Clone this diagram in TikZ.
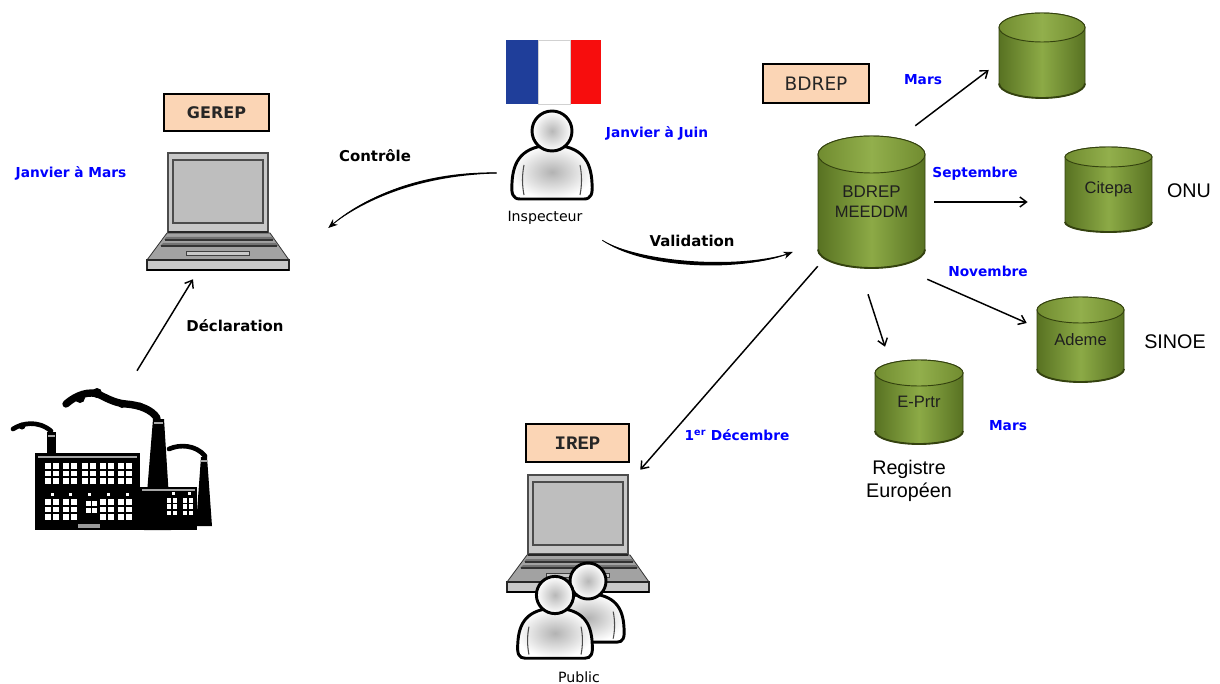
\documentclass[tikz,border=0pt]{standalone}
\usepackage{fontspec}
\setmainfont{Liberation Sans}
\newfontfamily\tahomalike{DejaVu Sans}
\newfontfamily\typewr{Liberation Mono}
\usetikzlibrary{arrows.meta,calc}

\definecolor{peach}{HTML}{FBD5B5}
\definecolor{monthblue}{HTML}{0000FF}
\definecolor{cylmid}{HTML}{8CAA46}
\definecolor{cyledge}{HTML}{587222}
\definecolor{cyltopmid}{HTML}{92AF4C}
\definecolor{cyltopedge}{HTML}{718C30}
\definecolor{cylline}{HTML}{34420F}
\definecolor{framegray}{HTML}{C8C8C8}
\definecolor{screengray}{HTML}{BEBEBE}
\definecolor{deckgray}{HTML}{A2A2A2}
\definecolor{flagblue}{HTML}{1F3E9A}
\definecolor{flagred}{HTML}{F70D0D}

% database cylinder: name, centre x, top y, bottom y, x radius, y radius, text
\newcommand\dbcyl[7]{%
  \shade[left color=cyledge,right color=cyledge,middle color=cylmid,draw=cylline,line width=0.7pt]
    (#2-#5,#3+#6) -- (#2-#5,#4-#6)
    arc[start angle=180,end angle=360,x radius={#5*0.75pt},y radius={#6*0.75pt}]
    -- (#2+#5,#3+#6)
    arc[start angle=0,end angle=180,x radius={#5*0.75pt},y radius={#6*0.75pt}] -- cycle;
  \draw[cylline,line width=1.4pt] (#2-#5,#4-#6)
    arc[start angle=180,end angle=360,x radius={#5*0.75pt},y radius={#6*0.75pt}];
  \shade[left color=cyltopedge,right color=cyltopedge,middle color=cyltopmid,draw=cylline,line width=0.7pt]
    (#2,#3+#6) ellipse[x radius={#5*0.75pt},y radius={#6*0.75pt}];
  \node[cyltext,minimum width={2*#5*0.75pt},minimum height={(#4-#3)*0.75pt}] (#1) at (#2,{(#3+#4)/2}) {#7};
}

% laptop drawn from the top-left corner of its screen
\newcommand\laptopicon[2]{%
  \begin{scope}[shift={(#1,#2)}]
    \filldraw[fill=deckgray,draw=black!80,line width=0.6pt] (-1,80) -- (102,80) -- (121,107) -- (-21,107) -- cycle;
    \fill[black!55] (-2,84) -- (104,84) -- (106,87) -- (-4,87) -- cycle;
    \fill[black!55] (-5,90) -- (108,90) -- (110,93) -- (-8,93) -- cycle;
    \draw[black!80,line width=0.8pt] (-3,87) -- (105,87) (-7,93) -- (109,93);
    \filldraw[fill=framegray,draw=black!75,line width=0.6pt] (18,98.5) rectangle (81,102.5);
    \filldraw[fill=framegray,draw=black!85,line width=0.8pt] (-21,107) rectangle (121,117);
    \draw[black,line width=1.4pt] (-21,117) -- (121,117);
    \filldraw[fill=framegray,draw=black!70,line width=0.8pt] (0,0) rectangle (100,79);
    \draw[black!85,line width=1.5pt] (0,79.5) -- (100,79.5);
    \filldraw[fill=screengray,draw=black!70,line width=1.1pt] (5,7) rectangle (95,70);
  \end{scope}}

% person: head centre, scale
\newcommand\personicon[3]{%
  \begin{scope}[shift={(#1,#2)},scale=#3]
    \shade[inner color=black!30,outer color=white,draw=black,line width=2.2pt]
      (-32,68) -- (32,68) .. controls (39,68) and (41,63) .. (40,52)
      .. controls (39,30) and (30,15) .. (0,14)
      .. controls (-30,15) and (-39,30) .. (-40,52)
      .. controls (-41,63) and (-39,68) .. (-32,68) -- cycle;
    \draw[black!70,line width=0.8pt] (-28,34) .. controls (-30,44) and (-30,54) .. (-28,64);
    \draw[black!70,line width=0.8pt] (28,34) .. controls (30,44) and (30,54) .. (28,64);
    \shade[inner color=black!28,outer color=white,draw=black,line width=2.2pt] (0,0) circle[radius=20];
  \end{scope}}

\begin{document}
\begin{tikzpicture}[x=0.75pt,y=-0.75pt,
  ghost/.style={inner sep=0,draw=none},
  tagbox/.style={draw=black,line width=2pt,fill=peach,inner sep=0,text=black!85},
  cyltext/.style={inner sep=0,align=center,text=black!88,font=\fontsize{12.4}{15}\selectfont},
  bluelab/.style={inner sep=0,text=monthblue,font=\tahomalike\bfseries\fontsize{10.3}{12}\selectfont},
  blklab/.style={inner sep=0,text=black,font=\tahomalike\bfseries\fontsize{11.2}{13}\selectfont},
  iconlab/.style={inner sep=0,text=black,font=\tahomalike\fontsize{10.6}{12}\selectfont},
  arial/.style={inner sep=0,text=black,align=center,font=\fontsize{14.8}{17.25}\selectfont},
  arrowline/.style={line width=1.1pt,-{Straight Barb[length=5pt,width=7.5pt]}},
  curvetip/.style={line width=0.6pt,-{Stealth[length=7pt,width=5.5pt]}}]
\useasboundingbox (0,0) rectangle (1220,684);
\fill[white] (0,0) rectangle (1220,684);

% ---------- GEREP ----------
\node[tagbox,minimum width=78.75pt,minimum height=27.75pt,
      font=\tahomalike\bfseries\fontsize{12}{14}\selectfont] (gerep) at (216.5,112.5) {GEREP};
\laptopicon{168}{153}
\node[ghost,minimum width=106.5pt,minimum height=87.75pt] (gereplap) at (218,211.5) {};
\node[bluelab] (janmars) at (71,173) {Janvier à Mars};

% ---------- factory ----------
\fill[black] (35,453) rectangle (140,530);
\fill[black] (140,487) rectangle (197,530);
\fill[black] (47,432) rectangle (56,454);
\fill[black] (153,419) -- (164,419) -- (171,530) -- (144,530) -- cycle;
\fill[black] (201,457) -- (207,457) -- (212,526) -- (196,526) -- cycle;
\draw[black!35,line width=0.9pt] (38,457) -- (137,457) (142,490) -- (195,490)
  (154,423) -- (163,423) (48,436) -- (55,436) (201,461) -- (207,461);
\foreach \wx in {45,63,82,100,118}
  \foreach \i in {0,1}
    \foreach \j in {0,1,2}
      \fill[white] (\wx+\i*8,463+\j*7.5) rectangle ++(6,5.5);
\foreach \wx in {45,63,100,118}
  \foreach \i in {0,1}
    \foreach \j in {0,1,2}
      \fill[white] (\wx+\i*8,499+\j*7.5) rectangle ++(6,5.5);
\foreach \i in {0,1}
  \foreach \j in {0,1}
    \fill[white] (86+\i*6,501+\j*6.5) rectangle ++(4.5,5);
\foreach \dx in {52,70,89,108,127}
  \fill[white] (\dx-1.5,493) rectangle ++(3,3);
\foreach \wx in {167,183}
  \foreach \i in {0,1}
    \foreach \j in {0,1,2}
      \fill[white] (\wx+\i*6,498+\j*6.25) rectangle ++(4,4.5);
\foreach \dx in {173,189}
  \fill[white] (\dx-1.5,492) rectangle ++(3,3);
\fill[black!40] (78,524) rectangle (100,528);
% smoke
\draw[line width=5.5pt,line cap=round] (66,404) .. controls (76,395) and (90,390) .. (100,395)
  .. controls (110,400) and (116,403) .. (126,404) .. controls (140,405) and (152,410) .. (157,418);
\fill (80,398) circle[radius=5];
\fill (97,393) circle[radius=5];
\fill (122,404) circle[radius=4];
\fill (140,406) circle[radius=3.5];
\draw[line width=3.5pt,line cap=round] (13,429) .. controls (22,423) and (38,420) .. (51,431);
\fill (22,426) circle[radius=3.5];
\draw[line width=3.5pt,line cap=round] (169,449) .. controls (180,444) and (196,445) .. (205,456);
\node[ghost,minimum width=151.5pt,minimum height=102.75pt] (factory) at (111,461.5) {};

\draw[arrowline] ($(factory.north)+(26,-22)$) -- ($(gereplap.south)+(-25,9)$);
\node[blklab] (decl) at (235,326) {Déclaration};

% ---------- inspector ----------
\node[ghost,minimum width=71.25pt,minimum height=48pt] (flag) at (553.5,72) {};
\fill[flagblue] (506,40) rectangle (538,104);
\fill[white] (538,40) rectangle (570,104);
\fill[flagred] (570,40) rectangle (601,104);
\draw[black!18,line width=0.5pt] (538,40) rectangle (570,104);

\personicon{552}{131}{1}
\node[ghost,minimum width=58.5pt,minimum height=68.25pt] (insp) at (551,153.5) {};
\node[iconlab] (insplab) at (545,218) {Inspecteur};
\node[bluelab] (janjuin) at (657,133) {Janvier à Juin};

% control: inspector back to GEREP
\coordinate (ctl-s) at ($(insp.west)+(-15,19.5)$);
\coordinate (ctl-e) at ($(gereplap.east)+(39,16.5)$);
\fill[black] ($(ctl-s)+(0,-0.5)$) .. controls +(-67,-1) and +(42,-37) .. (ctl-e)
  .. controls +(40,-33) and +(-67,1.5) .. ($(ctl-s)+(0,0.5)$) -- cycle;
\draw[curvetip] (ctl-s) .. controls +(-67,0) and +(41,-35) .. (ctl-e);
\node[blklab] (ctrl) at (375,156) {Contrôle};

% ---------- BDREP ----------
\node[tagbox,minimum width=79.5pt,minimum height=29.25pt,
      font=\tahomalike\fontsize{13.9}{16}\selectfont] (bdrepbox) at (816,83.5) {BDREP};

\dbcyl{dbtop}{1042}{13}{98}{43}{14.5}{}
\dbcyl{main}{871.5}{136}{268}{53.5}{18.5}{\fontsize{12.7}{15}\selectfont BDREP\\MEEDDM}
\dbcyl{citepa}{1108.5}{147}{232}{43.5}{10}{Citepa}
\dbcyl{ademe}{1080.5}{297}{382}{43.5}{13}{Ademe}
\dbcyl{eprtr}{919}{360}{444}{44}{13}{E-Prtr}

\node[arial] (onu) at (1189,191) {ONU};
\node[arial] (sinoe) at (1175,342) {SINOE};
\node[arial] (registre) at (909,480.5) {Registre\\Européen};

% validation: inspector to BDREP
\coordinate (val-s) at ($(insp.south east)+(12,41)$);
\coordinate (val-e) at ($(main.west)+(-25,50)$);
\fill[black] (val-s) .. controls +(38,22) and +(-53,18) .. (val-e)
  .. controls +(-53,22) and +(38,28) .. (val-s) -- cycle;
\draw[curvetip] (val-s) .. controls +(38,24) and +(-53,20) .. (val-e);
\node[blklab] (valid) at (692,241) {Validation};

% outgoing transfers
\draw[arrowline] ($(main.north east)+(-10,-10)$) -- ($(dbtop.west)+(-10,14.5)$);
\draw[arrowline] ($(main.east)+(9,0)$) -- ($(citepa.west)+(-37,12.5)$);
\draw[arrowline] ($(main.south east)+(2,11)$) -- ($(ademe.west)+(-10,-16.5)$);
\draw[arrowline] ($(main.south)+(-3.5,26)$) -- ($(eprtr.north)+(-34,-13)$);

\node[bluelab] (mars1) at (923,80) {Mars};
\node[bluelab] (sept) at (975,174) {Septembre};
\node[bluelab] (nov) at (988,271) {Novembre};
\node[bluelab] (mars2) at (1008,426) {Mars};

% ---------- IREP ----------
\node[tagbox,minimum width=77.25pt,minimum height=28.5pt,
      font=\typewr\bfseries\fontsize{14.3}{16}\selectfont] (irep) at (577.5,443) {IREP};
\laptopicon{528}{475}
\node[ghost,minimum width=106.5pt,minimum height=87.75pt] (ireplap) at (578,533.5) {};
\personicon{588}{581}{0.9}
\personicon{555}{595}{0.93}
\node[ghost,minimum width=81pt,minimum height=72pt] (public) at (569,612) {};
\node[iconlab] (publab) at (579,677) {Public};

\draw[arrowline] ($(main.south west)+(0,-2)$) -- ($(ireplap.north east)+(-9,-5)$);
\node[bluelab] (dec) at (737,435) {1\textsuperscript{er} Décembre};
\end{tikzpicture}
\end{document}
